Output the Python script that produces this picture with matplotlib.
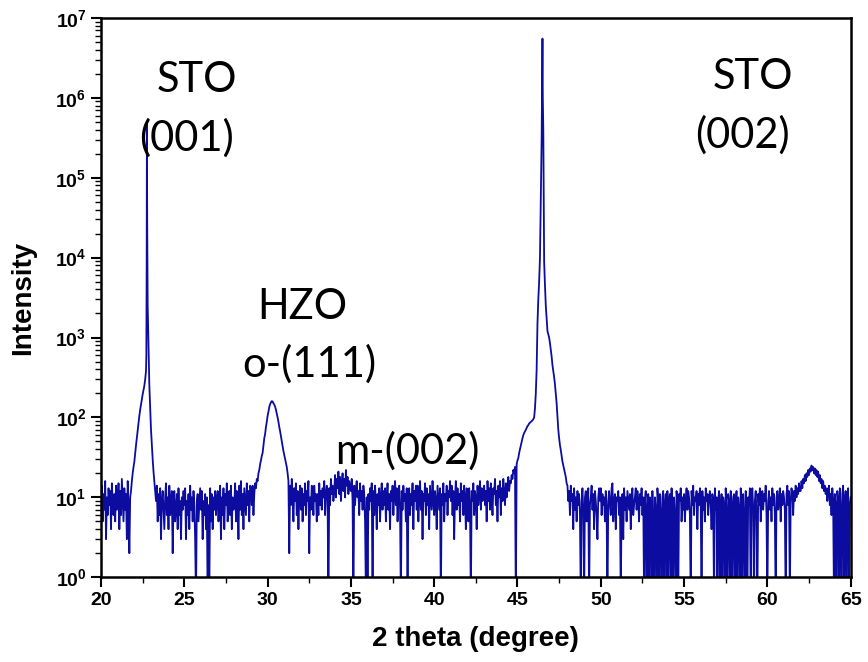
#!/usr/bin/env python3
"""XRD 2theta-omega scan of HZO on STO, log intensity."""

import numpy as np
import matplotlib
matplotlib.use('Agg')
import matplotlib.pyplot as plt
from matplotlib.ticker import FuncFormatter, FixedLocator, LogLocator, MultipleLocator, NullFormatter

# Scan grid: 20-65 deg, 0.05 deg step (one row per degree, 20 points each)
two_theta = np.round(np.arange(20.0, 65.001, 0.05), 3)
counts = np.array([
    9, 14, 5, 11, 7, 16, 3, 10, 6, 13, 8, 12, 4, 15, 9, 6, 11, 5, 14, 7,                    # 20
    8, 15, 4, 12, 6, 17, 9, 5, 13, 7, 11, 3, 16, 8, 2, 10, 12, 16, 20, 24,                  # 21
    28, 36, 45, 56, 70, 86, 105, 125, 145, 170, 195, 220, 250, 300, 380, 150000, 2500, 800, 250, 130,  # 22
    70, 45, 30, 21, 16, 12, 9, 14, 5, 11, 6, 13, 3, 9, 12, 7, 4, 10, 15, 6,                 # 23
    10, 4, 14, 6, 9, 12, 2, 8, 12, 5, 7, 11, 4, 13, 6, 9, 3, 10, 7, 12,                     # 24
    8, 13, 3, 9, 6, 11, 4, 14, 7, 10, 5, 12, 8, 3, 0.5, 9, 11, 5, 8, 13,                    # 25
    7, 12, 3, 9, 6, 11, 4, 10, 0.5, 8, 0.7, 13, 5, 11, 4, 10, 7, 12, 6, 9,                  # 26
    12, 5, 9, 14, 3, 10, 6, 13, 4, 11, 8, 15, 5, 9, 12, 6, 14, 4, 10, 7,                    # 27
    8, 15, 5, 12, 9, 3, 14, 7, 16, 6, 11, 4, 13, 9, 6, 15, 8, 12, 5, 14,                    # 28
    13, 8, 14, 6, 11, 15, 13, 17, 16, 20, 22, 26, 29, 33, 36, 44, 55, 62, 76, 88,           # 29
    105, 118, 135, 146, 155, 160, 158, 150, 145, 136, 125, 112, 100, 88, 76, 67, 58, 50, 44, 38,  # 30
    34, 30, 27, 24, 20, 16, 2, 14, 8, 17, 11, 5, 13, 9, 15, 6, 12, 4, 10, 14,               # 31
    7, 13, 5, 11, 8, 15, 6, 12, 9, 16, 2, 10, 7, 14, 12, 6, 14, 9, 11, 5,                   # 32
    11, 6, 15, 8, 12, 7, 13, 10, 16, 6, 11, 14, 9, 0.5, 13, 8, 17, 11, 14, 9,               # 33
    12, 19, 10, 17, 13, 21, 11, 18, 9, 15, 20, 12, 17, 10, 22, 14, 18, 11, 16, 13,          # 34
    12, 17, 9, 0.5, 14, 8, 13, 16, 10, 12, 6, 15, 9, 12, 7, 14, 11, 5, 0.6, 10,             # 35
    0.5, 11, 7, 13, 9, 15, 0.5, 12, 6, 14, 9, 4, 11, 8, 13, 5, 10, 15, 7, 12,               # 36
    8, 13, 5, 10, 15, 7, 11, 4, 12, 9, 14, 6, 11, 16, 8, 13, 5, 10, 14, 7,                  # 37
    0.5, 12, 7, 14, 9, 11, 5, 13, 0.5, 9, 13, 6, 11, 8, 15, 4, 12, 9, 14, 7,                # 38
    14, 5, 10, 16, 7, 12, 3, 11, 9, 15, 6, 13, 8, 11, 4, 14, 10, 7, 16, 9,                  # 39
    6, 12, 9, 4, 14, 10, 7, 13, 0.5, 11, 8, 15, 5, 11, 9, 14, 6, 12, 10, 16,                # 40
    9, 14, 6, 12, 3, 10, 16, 7, 13, 8, 11, 5, 15, 9, 12, 6, 14, 10, 4, 13,                  # 41
    11, 5, 13, 8, 0.5, 12, 9, 15, 6, 12, 10, 4, 14, 8, 11, 16, 7, 13, 9, 12,                # 42
    14, 8, 12, 5, 16, 9, 13, 7, 15, 10, 6, 13, 11, 17, 8, 12, 5, 14, 10, 16,                # 43
    6, 13, 9, 17, 11, 8, 15, 10, 14, 18, 12, 16, 15, 19, 17, 22, 20, 24, 0.5, 26,           # 44
    29, 31, 36, 40, 45, 50, 55, 60, 64, 67, 70, 74, 78, 80, 84, 86, 88, 90, 92, 95,         # 45
    100, 130, 200, 400, 1500, 3000, 5000, 10000, 60000, 300000,
    5500000, 400000, 9000, 4500, 2500, 1700, 1200, 1100, 1000, 850,                         # 46
    700, 580, 450, 380, 320, 260, 200, 150, 100, 70, 55, 45, 39, 33, 28, 25, 22, 20, 18, 15,  # 47
    14, 9, 12, 6, 14, 9, 11, 4, 13, 7, 10, 5, 12, 8, 11, 6, 0.5, 9, 13, 7,                  # 48
    0.5, 10, 12, 5, 9, 13, 0.5, 8, 10, 14, 7, 11, 4, 12, 9, 6, 3, 10, 13, 9,                # 49
    13, 6, 11, 8, 10, 5, 12, 7, 0.5, 9, 12, 8, 6, 13, 15, 5, 9, 11, 4, 10,                  # 50
    9, 12, 6, 10, 0.5, 8, 11, 3, 13, 7, 10, 5, 12, 9, 7, 11, 4, 10, 13, 6,                  # 51
    8, 10, 13, 7, 12, 9, 5, 11, 8, 13, 6, 10, 0.5, 9, 12, 0.5, 7, 11, 0.5, 10,              # 52
    8, 0.5, 12, 4, 0.5, 10, 7, 0.5, 13, 9, 0.5, 11, 6, 0.5, 10, 12, 0.5, 8, 11, 0.5,        # 53
    12, 0.5, 9, 11, 0.5, 13, 7, 0.5, 10, 6, 0.5, 12, 8, 0.5, 11, 9, 13, 5, 10, 7,           # 54
    11, 5, 9, 13, 7, 12, 10, 6, 0.5, 12, 8, 14, 6, 10, 9, 12, 4, 11, 8, 13,                 # 55
    9, 0.5, 12, 7, 10, 5, 13, 9, 11, 6, 10, 12, 8, 4, 11, 9, 0.5, 13, 7, 10,                # 56
    0.5, 9, 12, 0.5, 7, 11, 0.5, 10, 8, 0.5, 13, 6, 0.5, 11, 9, 0.5, 12, 8, 0.5, 10,        # 57
    11, 0.5, 8, 12, 0.5, 10, 7, 0.5, 13, 9, 0.5, 11, 6, 0.5, 12, 9, 0.5, 10, 8, 13,         # 58
    0.5, 10, 13, 7, 0.5, 9, 12, 6, 0.5, 11, 8, 13, 5, 10, 12, 7, 11, 9, 14, 6,              # 59
    0.5, 9, 12, 7, 10, 5, 13, 8, 11, 6, 0.5, 10, 12, 7, 9, 13, 5, 11, 8, 12,                # 60
    10, 7, 0.5, 11, 14, 8, 12, 0.5, 9, 13, 11, 6, 12, 9, 14, 10, 13, 11, 15, 12,            # 61
    12, 16, 13, 17, 15, 19, 16, 20, 18, 22, 19, 23, 21, 25, 22, 24, 20, 23, 19, 22,         # 62
    18, 21, 16, 19, 15, 17, 13, 16, 12, 14, 11, 13, 9, 12, 14, 8, 11, 6, 13, 9,             # 63
    0.5, 11, 8, 0.5, 12, 9, 0.6, 13, 7, 0.5, 11, 14, 0.5, 9, 12, 0.5, 10, 13, 0.5, 8,       # 64
    10,                                                                                     # 65
])

# Extra fine points across the tips of the two sharp substrate reflections
peak_theta = np.array([22.72, 22.74, 22.755, 22.77, 22.79, 46.48, 46.52])
peak_counts = np.array([600, 8000, 500000, 30000, 4000, 1500000, 1000000])

# Peak labels: (text, 2theta, intensity)
labels = [
    ("STO", 25.78, 10 ** 6.22),
    ("(001)", 25.12, 10 ** 5.50),
    ("HZO", 32.08, 10 ** 3.38),
    ("o-(111)", 32.49, 10 ** 2.67),
    ("m-(002)", 38.38, 10 ** 1.58),
    ("STO", 59.12, 10 ** 6.26),
    ("(002)", 58.52, 10 ** 5.53),
]

x = np.concatenate([two_theta, peak_theta])
y = np.concatenate([counts, peak_counts])
order = np.argsort(x, kind='stable')
x, y = x[order], y[order]

plt.rcParams['font.family'] = 'Liberation Sans'
plt.rcParams['mathtext.fontset'] = 'custom'
plt.rcParams['mathtext.rm'] = 'Liberation Sans:bold'
plt.rcParams['mathtext.bf'] = 'Liberation Sans:bold'

fig = plt.figure(figsize=(8.68, 6.62), dpi=100)
ax = fig.add_axes([0.1164, 0.128, 0.8636, 0.845])

ax.plot(x, y, color='#0c0ca0', lw=1.3)

ax.set_yscale('log')
ax.set_xlim(20, 65)
ax.set_ylim(1, 1e7)

ax.xaxis.set_major_locator(MultipleLocator(5))
ax.xaxis.set_minor_locator(MultipleLocator(2.5))
ax.yaxis.set_major_locator(FixedLocator([10.0 ** k for k in range(8)]))
ax.yaxis.set_minor_locator(LogLocator(base=10, subs=np.arange(2, 10), numticks=20))
ax.yaxis.set_major_formatter(FuncFormatter(lambda v, p: r'$\mathbf{10^{%d}}$' % round(np.log10(v))))
ax.yaxis.set_minor_formatter(NullFormatter())
ax.xaxis.set_major_formatter(FuncFormatter(lambda v, p: '%d' % v))

ax.tick_params(which='major', direction='out', length=7, width=1.5, labelsize=14, colors='black')
ax.tick_params(which='minor', direction='out', length=4, width=1.0)
ax.tick_params(top=False, right=False, which='both')
for lab in ax.get_xticklabels():
    lab.set_fontweight('bold')
for sp in ax.spines.values():
    sp.set_linewidth(1.8)

ax.set_xlabel('2 theta (degree)', fontsize=20, fontweight='bold', labelpad=12)
ax.set_ylabel('Intensity', fontsize=20, fontweight='bold', labelpad=14)

for text, tx, ty in labels:
    ax.text(tx, ty, text, fontsize=30, family='Lato', ha='center', va='center', color='black')

plt.savefig('out.png', dpi=100)
print("Saved: out.png")
